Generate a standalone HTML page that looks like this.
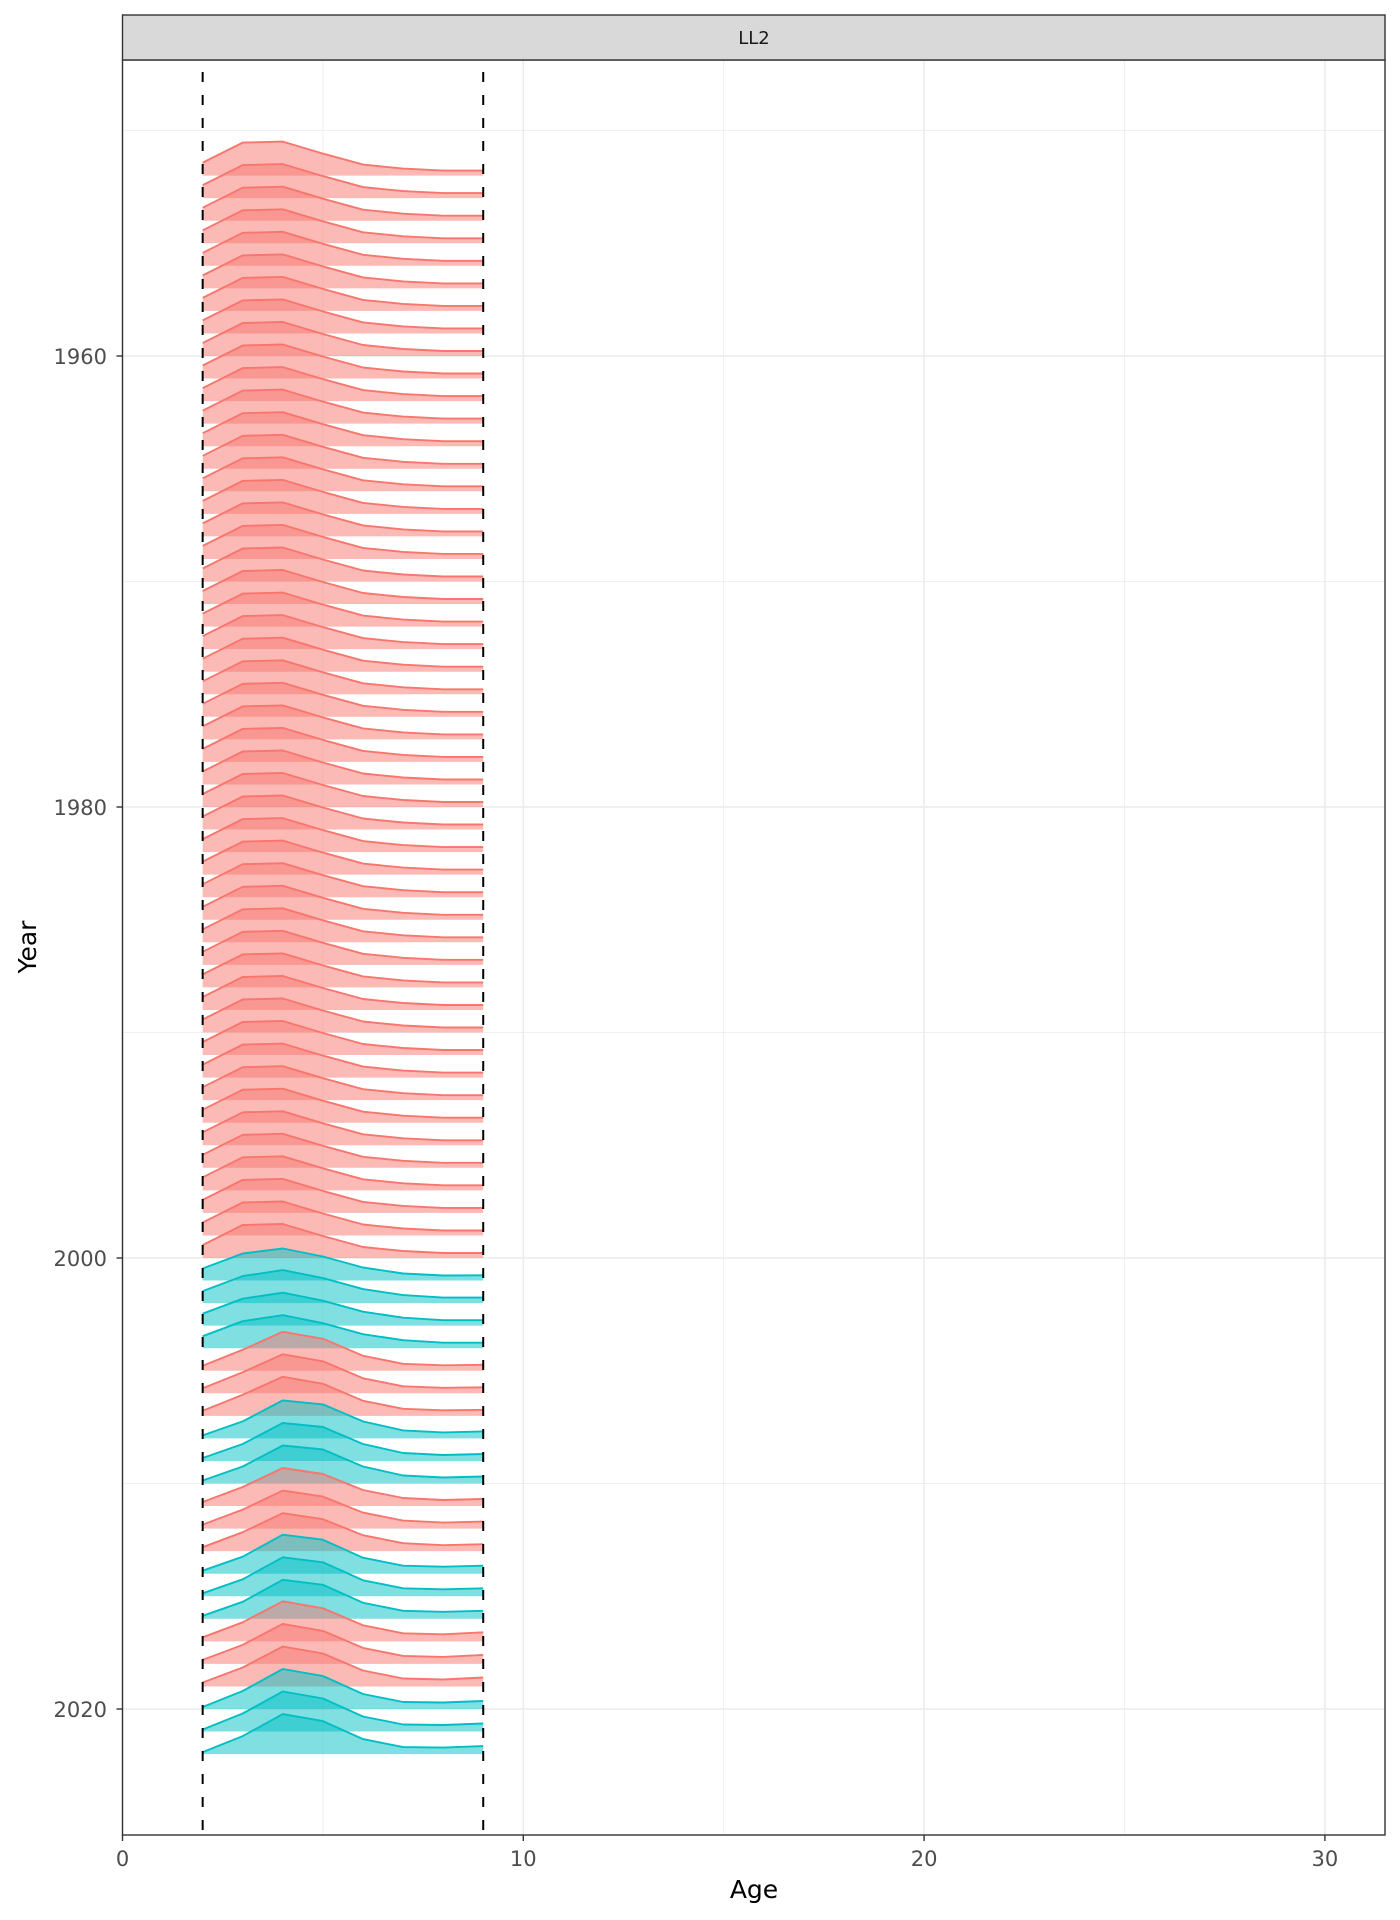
<!DOCTYPE html>
<html><head><meta charset="utf-8">
<style>
html,body{margin:0;padding:0;background:#fff;}
svg{display:block;font-family:"DejaVu Sans","Liberation Sans",sans-serif;}
</style></head>
<body>
<svg id="chart" width="1400" height="1920" viewBox="0 0 1400 1920" xmlns="http://www.w3.org/2000/svg">
  <rect x="0" y="0" width="1400" height="1920" fill="#fff"/>
  <g id="grid"></g>
  <g id="ridges"></g>
  <g id="vlines"></g>
  <rect x="122.5" y="60" width="1262.5" height="1775" fill="none" stroke="#333" stroke-width="1.4"/>
  <rect x="122.5" y="15" width="1262.5" height="45" fill="#D9D9D9" stroke="#333" stroke-width="1.4"/>
  <text x="754" y="44" text-anchor="middle" font-size="18" fill="#1a1a1a">LL2</text>
  <g id="axes"></g>
  <text x="754" y="1898" text-anchor="middle" font-size="25" fill="#000">Age</text>
  <text x="0" y="0" transform="translate(36,947) rotate(-90)" text-anchor="middle" font-size="25" fill="#000">Year</text>
</svg>
<script>
const ages = [2,3,4,5,6,7,8,9];
const years = [1952,1953,1954,1955,1956,1957,1958,1959,1960,1961,1962,1963,1964,1965,1966,1967,1968,1969,1970,1971,1972,1973,1974,1975,1976,1977,1978,1979,1980,1981,1982,1983,1984,1985,1986,1987,1988,1989,1990,1991,1992,1993,1994,1995,1996,1997,1998,1999,2000,2001,2002,2003,2004,2005,2006,2007,2008,2009,2010,2011,2012,2013,2014,2015,2016,2017,2018,2019,2020,2021,2022];
const fleet = [0,0,0,0,0,0,0,0,0,0,0,0,0,0,0,0,0,0,0,0,0,0,0,0,0,0,0,0,0,0,0,0,0,0,0,0,0,0,0,0,0,0,0,0,0,0,0,0,0,1,1,1,1,0,0,0,1,1,1,0,0,0,1,1,1,0,0,0,1,1,1];
const props = [
[0.13,0.33,0.34,0.22,0.11,0.07,0.05,0.05],
[0.13,0.33,0.34,0.22,0.11,0.07,0.05,0.05],
[0.13,0.33,0.34,0.22,0.11,0.07,0.05,0.05],
[0.13,0.33,0.34,0.22,0.11,0.07,0.05,0.05],
[0.13,0.33,0.34,0.22,0.11,0.07,0.05,0.05],
[0.13,0.33,0.34,0.22,0.11,0.07,0.05,0.05],
[0.13,0.33,0.34,0.22,0.11,0.07,0.05,0.05],
[0.13,0.33,0.34,0.22,0.11,0.07,0.05,0.05],
[0.13,0.33,0.34,0.22,0.11,0.07,0.05,0.05],
[0.13,0.33,0.34,0.22,0.11,0.07,0.05,0.05],
[0.13,0.33,0.34,0.22,0.11,0.07,0.05,0.05],
[0.13,0.33,0.34,0.22,0.11,0.07,0.05,0.05],
[0.13,0.33,0.34,0.22,0.11,0.07,0.05,0.05],
[0.13,0.33,0.34,0.22,0.11,0.07,0.05,0.05],
[0.13,0.33,0.34,0.22,0.11,0.07,0.05,0.05],
[0.13,0.33,0.34,0.22,0.11,0.07,0.05,0.05],
[0.13,0.33,0.34,0.22,0.11,0.07,0.05,0.05],
[0.13,0.33,0.34,0.22,0.11,0.07,0.05,0.05],
[0.13,0.33,0.34,0.22,0.11,0.07,0.05,0.05],
[0.13,0.33,0.34,0.22,0.11,0.07,0.05,0.05],
[0.13,0.33,0.34,0.22,0.11,0.07,0.05,0.05],
[0.13,0.33,0.34,0.22,0.11,0.07,0.05,0.05],
[0.13,0.33,0.34,0.22,0.11,0.07,0.05,0.05],
[0.13,0.33,0.34,0.22,0.11,0.07,0.05,0.05],
[0.13,0.33,0.34,0.22,0.11,0.07,0.05,0.05],
[0.13,0.33,0.34,0.22,0.11,0.07,0.05,0.05],
[0.13,0.33,0.34,0.22,0.11,0.07,0.05,0.05],
[0.13,0.33,0.34,0.22,0.11,0.07,0.05,0.05],
[0.13,0.33,0.34,0.22,0.11,0.07,0.05,0.05],
[0.13,0.33,0.34,0.22,0.11,0.07,0.05,0.05],
[0.13,0.33,0.34,0.22,0.11,0.07,0.05,0.05],
[0.13,0.33,0.34,0.22,0.11,0.07,0.05,0.05],
[0.13,0.33,0.34,0.22,0.11,0.07,0.05,0.05],
[0.13,0.33,0.34,0.22,0.11,0.07,0.05,0.05],
[0.13,0.33,0.34,0.22,0.11,0.07,0.05,0.05],
[0.13,0.33,0.34,0.22,0.11,0.07,0.05,0.05],
[0.13,0.33,0.34,0.22,0.11,0.07,0.05,0.05],
[0.13,0.33,0.34,0.22,0.11,0.07,0.05,0.05],
[0.13,0.33,0.34,0.22,0.11,0.07,0.05,0.05],
[0.13,0.33,0.34,0.22,0.11,0.07,0.05,0.05],
[0.13,0.33,0.34,0.22,0.11,0.07,0.05,0.05],
[0.13,0.33,0.34,0.22,0.11,0.07,0.05,0.05],
[0.13,0.33,0.34,0.22,0.11,0.07,0.05,0.05],
[0.13,0.33,0.34,0.22,0.11,0.07,0.05,0.05],
[0.13,0.33,0.34,0.22,0.11,0.07,0.05,0.05],
[0.13,0.33,0.34,0.22,0.11,0.07,0.05,0.05],
[0.13,0.33,0.34,0.22,0.11,0.07,0.05,0.05],
[0.13,0.33,0.34,0.22,0.11,0.07,0.05,0.05],
[0.13,0.33,0.34,0.22,0.11,0.07,0.05,0.05],
[0.12,0.27,0.32,0.24,0.13,0.07,0.05,0.053],
[0.12,0.27,0.33,0.25,0.14,0.08,0.055,0.055],
[0.12,0.27,0.33,0.25,0.14,0.08,0.055,0.055],
[0.12,0.27,0.33,0.25,0.14,0.08,0.055,0.055],
[0.05,0.21,0.39,0.32,0.15,0.07,0.055,0.06],
[0.05,0.21,0.39,0.32,0.15,0.07,0.055,0.06],
[0.05,0.21,0.39,0.32,0.15,0.07,0.055,0.06],
[0.03,0.17,0.38,0.34,0.17,0.08,0.06,0.07],
[0.03,0.17,0.38,0.34,0.17,0.08,0.06,0.07],
[0.03,0.17,0.38,0.34,0.17,0.08,0.06,0.07],
[0.04,0.19,0.38,0.32,0.16,0.08,0.06,0.07],
[0.04,0.19,0.38,0.32,0.16,0.08,0.06,0.07],
[0.04,0.19,0.38,0.32,0.16,0.08,0.06,0.07],
[0.03,0.17,0.39,0.34,0.16,0.08,0.07,0.08],
[0.03,0.17,0.39,0.34,0.16,0.08,0.07,0.08],
[0.03,0.17,0.39,0.34,0.16,0.08,0.07,0.08],
[0.04,0.19,0.40,0.33,0.16,0.08,0.07,0.09],
[0.04,0.19,0.40,0.33,0.16,0.08,0.07,0.09],
[0.04,0.19,0.40,0.33,0.16,0.08,0.07,0.09],
[0.02,0.18,0.40,0.33,0.15,0.07,0.065,0.08],
[0.02,0.18,0.40,0.33,0.15,0.07,0.065,0.08],
[0.02,0.18,0.40,0.33,0.15,0.07,0.065,0.08]
];
const xTicks = [0,10,20,30];
const xMinor = [5,15,25];
const yTicks = [1960,1980,2000,2020];
const yMinor = [1950,1970,1990,2010];
const ageLimits = [2,9];

const NS = "http://www.w3.org/2000/svg";
const px0 = 122.5, pxPerAge = 40.08;
const y2000 = 1258, pxPerYear = 22.55;
const heightScale = 100;
function xScale(a){ return px0 + a*pxPerAge; }
function yScale(yr){ return y2000 + (yr-2000)*pxPerYear; }
function hScale(v){ return v*heightScale; }
function mk(tag, attrs, parent){
  const el = document.createElementNS(NS, tag);
  for (const k in attrs) el.setAttribute(k, attrs[k]);
  parent.appendChild(el);
  return el;
}
const PT=60, PB=1835, PL=122.5, PR=1385;
const grid = document.getElementById('grid');
xMinor.forEach(v=>{
  const l = mk('line',{x1:xScale(v),x2:xScale(v),y1:PT,y2:PB,stroke:'#EBEBEB','stroke-width':0.8},grid);
  
  
});
yMinor.forEach(v=>{
  const l = mk('line',{x1:PL,x2:PR,y1:yScale(v),y2:yScale(v),stroke:'#EBEBEB','stroke-width':0.8},grid);
  
  
});
xTicks.forEach(v=>{
  const l = mk('line',{x1:xScale(v),x2:xScale(v),y1:PT,y2:PB,stroke:'#EBEBEB','stroke-width':1.5},grid);
  
  
});
yTicks.forEach(v=>{
  const l = mk('line',{x1:PL,x2:PR,y1:yScale(v),y2:yScale(v),stroke:'#EBEBEB','stroke-width':1.5},grid);
  
  
});

const ridges = document.getElementById('ridges');
const fills = ['rgba(248,118,109,0.5)','rgba(0,191,196,0.5)'];
const strokes = ['#F8766D','#00BFC4'];
years.forEach((yr,i)=>{
  const base = yScale(yr);
  const row = props[i];
  const pts = ages.map((a,j)=>[xScale(a), base - hScale(row[j])]);
  const g = mk('g',{},ridges);
  
  
  let d = 'M'+xScale(ages[0])+','+base;
  pts.forEach(p=>{ d += ' L'+p[0].toFixed(1)+','+p[1].toFixed(1); });
  d += ' L'+xScale(ages[ages.length-1])+','+base+' Z';
  const f = mk('path',{d:d,fill:fills[fleet[i]],stroke:'none'},g);
  
  
  const ln = mk('polyline',{points:pts.map(p=>p[0].toFixed(1)+','+p[1].toFixed(1)).join(' '),fill:'none',stroke:strokes[fleet[i]],'stroke-width':1.9,'stroke-linejoin':'round'},g);
  
  
});

const vl = document.getElementById('vlines');
ageLimits.forEach(a=>{
  const l = mk('line',{x1:xScale(a),x2:xScale(a),y1:72,y2:PB,stroke:'#000','stroke-width':2,'stroke-dasharray':'10 13'},vl);
  
  
});

const axes = document.getElementById('axes');
xTicks.forEach(v=>{
  const t = mk('line',{x1:xScale(v),x2:xScale(v),y1:PB,y2:PB+6,stroke:'#333','stroke-width':1.4},axes);
  
  
  const tx = mk('text',{x:xScale(v),y:1866,'text-anchor':'middle','font-size':21,fill:'#4D4D4D'},axes);
  tx.textContent = v;
  
  
});
yTicks.forEach(v=>{
  const t = mk('line',{x1:PL-6,x2:PL,y1:yScale(v),y2:yScale(v),stroke:'#333','stroke-width':1.4},axes);
  
  
  const tx = mk('text',{x:107,y:yScale(v)+8,'text-anchor':'end','font-size':21,fill:'#4D4D4D'},axes);
  tx.textContent = v;
  
  
});
</script>
</body></html>
